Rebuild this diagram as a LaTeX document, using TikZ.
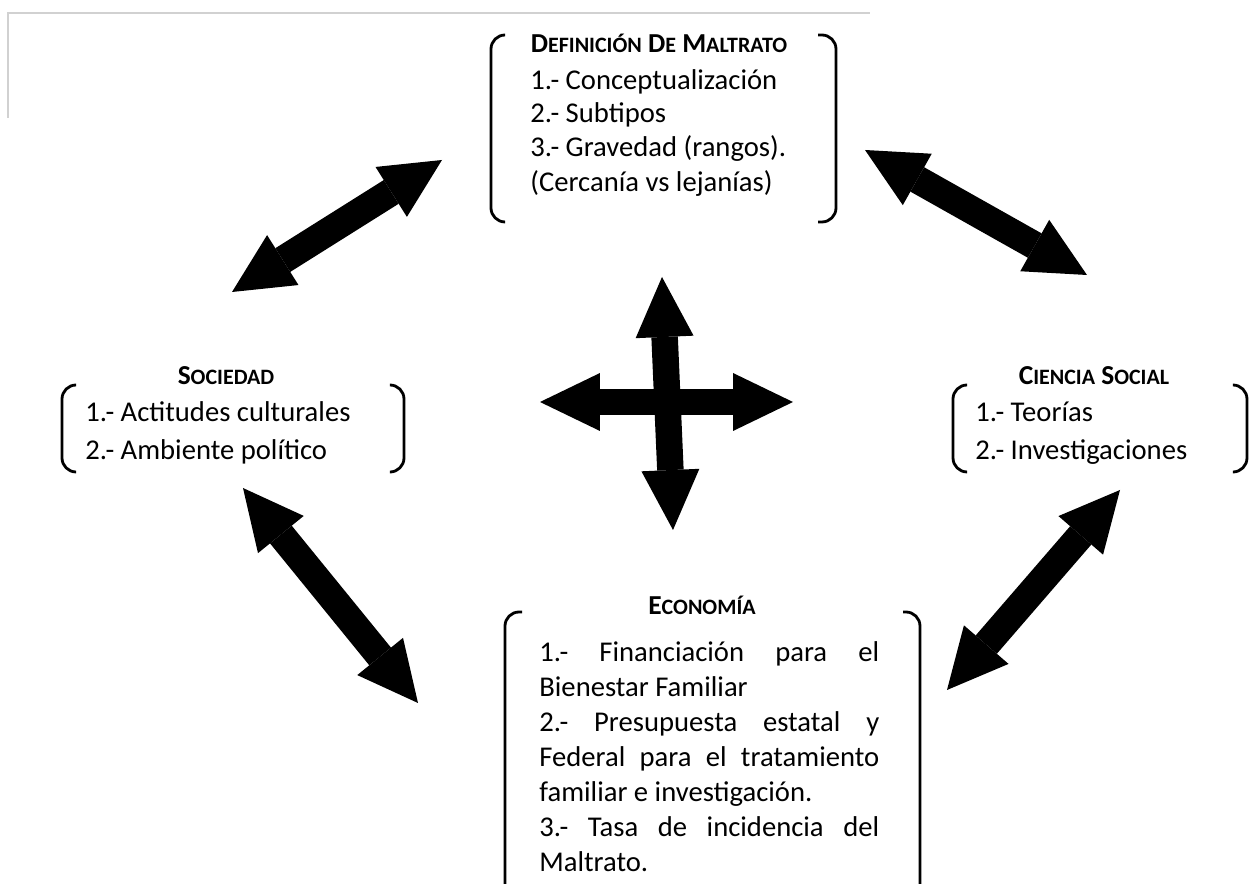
\documentclass[tikz,border=0pt]{standalone}
\usepackage{fontspec}
\setmainfont{Carlito}
\usetikzlibrary{arrows.meta}
\newcommand{\fsc}[2]{{\fontsize{15.6}{17}\selectfont\bfseries #1}{\fontsize{12.5}{14}\selectfont\bfseries #2}}
\newcommand{\bodyf}{\fontsize{16.3}{19}\selectfont}
\tikzset{
  hd/.style={anchor=base, inner sep=0pt, font=\fontsize{15.6}{17}\selectfont\bfseries},
  bt/.style={anchor=base west, inner sep=0pt, font=\bodyf},
  brk/.style={line width=1.6pt, rounded corners=8pt},
  frame/.style={draw=black!18, line width=1.2pt},
  dbl/.style={line width=0.53cm, {Triangle[length=1.2cm,width=1.16cm,line width=0pt]}-{Triangle[length=1.2cm,width=1.16cm,line width=0pt]}},
  ddbl/.style={line width=0.56cm, {Triangle[length=1.2cm,width=1.18cm,line width=0pt]}-{Triangle[length=1.2cm,width=1.18cm,line width=0pt]}},
}
\begin{document}
\begin{tikzpicture}[x=0.02cm,y=-0.02cm]
\useasboundingbox (0,0) rectangle (1249,884);
\fill[white] (0,0) rectangle (1249,884);
% grey frame
\draw[frame] (8,118) -- (8,13) -- (870,13);
% top box
\node[hd] (dh) at (659,53) {\fsc{D}{EFINICIÓN} \fsc{D}{E} \fsc{M}{ALTRATO}};
\node[bt] (d1) at (530,90) {1.- Conceptualización};
\node[bt] (d2) at (530,123) {2.- Subtipos};
\node[bt] (d3) at (530,157) {3.- Gravedad (rangos).};
\node[bt] (d4) at (530,192) {(Cercanía vs lejanías)};
\draw[brk] (505,35) -- (491,35) -- (491,222) -- (505,222);
\draw[brk] (818,35) -- (836,35) -- (836,222) -- (818,222);
% sociedad
\node[hd] (sh) at (226,385) {\fsc{S}{OCIEDAD}};
\node[bt] (s1) at (85,422) {1.- Actitudes culturales};
\node[bt] (s2) at (85,460) {2.- Ambiente político};
\draw[brk] (75,385) -- (62,385) -- (62,472) -- (75,472);
\draw[brk] (390,385) -- (404,385) -- (404,472) -- (390,472);
% ciencia social
\node[hd] (ch) at (1094,385) {\fsc{C}{IENCIA} \fsc{S}{OCIAL}};
\node[bt] (c1) at (975,422) {1.- Teorías};
\node[bt] (c2) at (975,460) {2.- Investigaciones};
\draw[brk] (967,385) -- (953,385) -- (953,472) -- (967,472);
\draw[brk] (1234,385) -- (1247,385) -- (1247,472) -- (1234,472);
% economia
\node[hd] (eh) at (702,615) {\fsc{E}{CONOMÍA}};
\node[bt] (e1) at (539,662) {\makebox[6.8cm][s]{1.- Financiación para el}};
\node[bt] (e2) at (539,697) {Bienestar Familiar};
\node[bt] (e3) at (539,732) {\makebox[6.8cm][s]{2.- Presupuesta estatal y}};
\node[bt] (e4) at (539,767) {\makebox[6.8cm][s]{Federal para el tratamiento}};
\node[bt] (e5) at (539,802) {familiar e investigación.};
\node[bt] (e6) at (539,837) {\makebox[6.8cm][s]{3.- Tasa de incidencia del}};
\node[bt] (e7) at (539,872) {Maltrato.};
\draw[brk] (522,612) -- (505,612) -- (505,900) -- (522,900);
\draw[brk] (903,612) -- (920,612) -- (920,900) -- (903,900);
% arrows
\coordinate (a1s) at (232,292); \coordinate (a1e) at (442,160);
\coordinate (a2s) at (865,150); \coordinate (a2e) at (1087,275);
\coordinate (a3s) at (243,488); \coordinate (a3e) at (418,703);
\coordinate (a4s) at (1120,490); \coordinate (a4e) at (947,690);
\coordinate (vt) at (662,277); \coordinate (vb) at (673,530);
\coordinate (hl) at (540,402); \coordinate (hr) at (793,402);
\draw[ddbl] (a1s) -- (a1e);
\draw[ddbl] (a2s) -- (a2e);
\draw[ddbl] (a3s) -- (a3e);
\draw[ddbl] (a4s) -- (a4e);
\draw[dbl] (hl) -- (hr);
\draw[dbl] (vt) -- (vb);
\end{tikzpicture}
\end{document}
